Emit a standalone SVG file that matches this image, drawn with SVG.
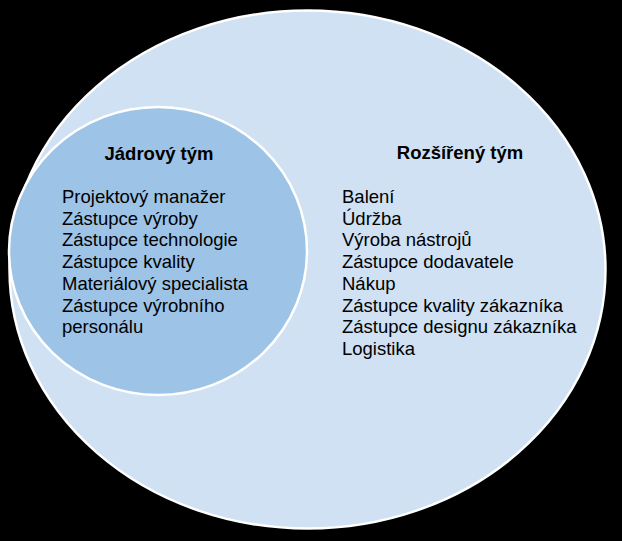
<svg xmlns="http://www.w3.org/2000/svg" width="622" height="541" viewBox="0 0 622 541">
  <style>
    .ring { stroke: #ffffff; stroke-width: 2.5; }
    .outer { fill: #cfe1f2; }
    .inner { fill: #9dc3e6; }
    .title { font-family: "Liberation Sans", Arial, sans-serif; font-size: 18.5px; font-weight: bold; fill: #000000; text-anchor: middle; }
    .item { font-family: "Liberation Sans", Arial, sans-serif; font-size: 18.5px; fill: #000000; }
  </style>
  <rect x="0" y="0" width="622" height="541" fill="#000000"/>
  <g id="extended-team">
    <ellipse class="ring outer" cx="307.5" cy="269.5" rx="298" ry="259"/>
    <text class="title" x="460" y="159">Rozšířený tým</text>
    <text class="item" x="342" y="203">Balení</text>
    <text class="item" x="342" y="224.7">Údržba</text>
    <text class="item" x="342" y="246.4">Výroba nástrojů</text>
    <text class="item" x="342" y="268.1">Zástupce dodavatele</text>
    <text class="item" x="342" y="289.8">Nákup</text>
    <text class="item" x="342" y="311.5">Zástupce kvality zákazníka</text>
    <text class="item" x="342" y="333.2">Zástupce designu zákazníka</text>
    <text class="item" x="342" y="354.9">Logistika</text>
  </g>
  <g id="core-team">
    <ellipse class="ring inner" cx="158" cy="251" rx="149" ry="144"/>
    <text class="title" x="159" y="160">Jádrový tým</text>
    <text class="item" x="62" y="203">Projektový manažer</text>
    <text class="item" x="62" y="224.7">Zástupce výroby</text>
    <text class="item" x="62" y="246.4">Zástupce technologie</text>
    <text class="item" x="62" y="268.1">Zástupce kvality</text>
    <text class="item" x="62" y="289.8">Materiálový specialista</text>
    <text class="item" x="62" y="311.5">Zástupce výrobního</text>
    <text class="item" x="62" y="333.2">personálu</text>
  </g>
  <g id="connectors"></g>
</svg>
